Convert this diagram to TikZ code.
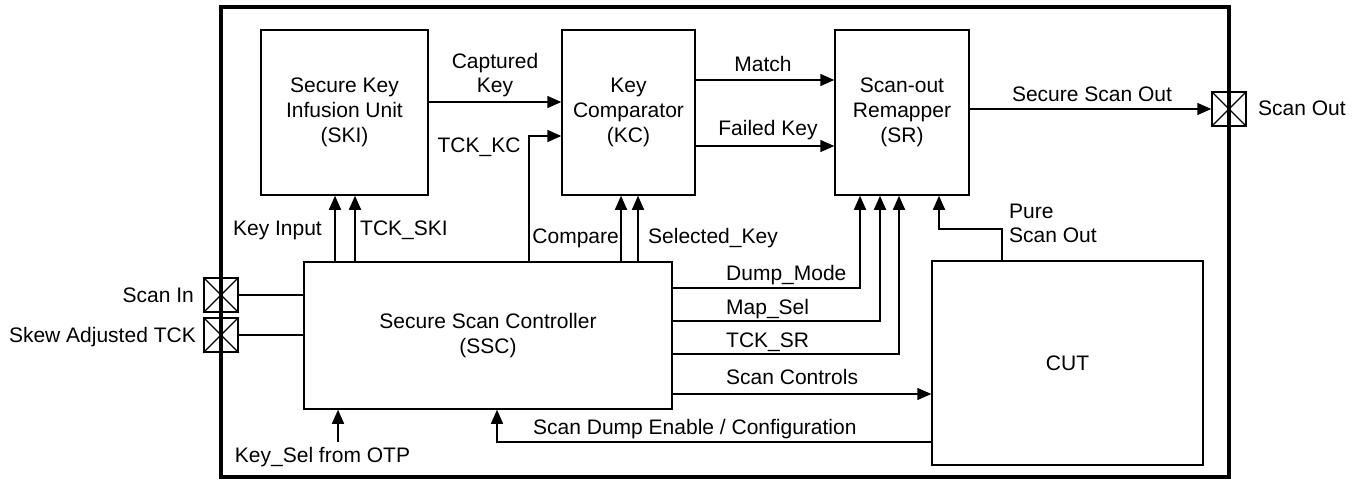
\documentclass[tikz,border=0pt]{standalone}
\usepackage{fontspec}
\setmainfont{Liberation Sans}
\usetikzlibrary{arrows.meta}
\begin{document}
\begin{tikzpicture}[x=1pt,y=-1pt,
  every node/.style={font=\fontsize{21}{25}\selectfont},
  blk/.style={draw, line width=1.5pt, inner sep=0pt, align=center},
  wire/.style={line width=1.5pt},
  arr/.style={wire, -{Triangle[length=14pt,width=12pt]}},
  lbl/.style={inner sep=0pt, text height=15pt, text depth=0pt},
  mlbl/.style={inner sep=0pt, font=\fontsize{21}{24}\selectfont},
  pad/.style={draw, line width=1.5pt, minimum size=34pt, inner sep=0pt},
  padx/.style={line width=1.1pt}]
\useasboundingbox (0,0) rectangle (1364,479);
% outer frame
\node[draw, line width=3.5pt, minimum width=1008pt, minimum height=470pt, inner sep=0pt] (frame) at (725,242) {};
% blocks
\node[blk, minimum width=167pt, minimum height=165pt] (SKI) at (344.5,112.5) {Secure Key\\Infusion Unit\\(SKI)};
\node[blk, minimum width=133pt, minimum height=165pt] (KC) at (628.5,112.5) {Key\\Comparator\\(KC)};
\node[blk, minimum width=134pt, minimum height=165pt] (SR) at (902,112.5) {Scan-out\\Remapper\\(SR)};
\node[blk, minimum width=368pt, minimum height=147pt] (SSC) at (488,335.5) {Secure Scan Controller\\(SSC)};
\node[blk, minimum width=271pt, minimum height=204pt] (CUT) at (1067.5,363) {CUT};
% pads
\node[pad] (SOpad) at (1229,109) {};
\node[pad] (SIpad) at (221,295) {};
\node[pad] (SKpad) at (221,335) {};
\foreach \p in {SOpad,SIpad,SKpad}{
  \draw[padx] (\p.north west) -- (\p.south east) (\p.north east) -- (\p.south west);
}
% SKI -> KC
\draw[arr] (SKI.east |- 0,102) -- (KC.west |- 0,102);
\node[mlbl, align=center] (lcap) at (495,75.5) {Captured\\Key};
% TCK_KC
\draw[arr] (529,0 |- SSC.north) |- (KC.west |- 0,136);
\node[lbl] (ltckkc) at (479,145) {TCK\_KC};
% KC -> SR
\draw[arr] (KC.east |- 0,80) -- (SR.west |- 0,80);
\node[lbl] (lmatch) at (763,64) {Match};
\draw[arr] (KC.east |- 0,146) -- (SR.west |- 0,146);
\node[lbl] (lfail) at (768,128) {Failed Key};
% SR -> Scan out pad
\draw[arr] (SR.east |- SOpad.west) -- (SOpad.west);
\node[lbl] (lsso) at (1092,94) {Secure Scan Out};
\node[lbl, anchor=west] (lso) at (1258,108) {Scan Out};
% SSC -> SKI
\draw[arr] (335,0 |- SSC.north) -- (335,0 |- SKI.south);
\node[lbl, anchor=east] (lkin) at (322,228) {Key Input};
\draw[arr] (355,0 |- SSC.north) -- (355,0 |- SKI.south);
\node[lbl, anchor=west] (ltckski) at (360,228) {TCK\_SKI};
% SSC -> KC
\draw[arr] (621,0 |- SSC.north) -- (621,0 |- KC.south);
\node[lbl, anchor=east] (lcmp) at (619,236) {Compare};
\draw[arr] (638,0 |- SSC.north) -- (638,0 |- KC.south);
\node[lbl, anchor=west] (lsel) at (648,236) {Selected\_Key};
% SSC -> SR
\draw[arr] (SSC.east |- 0,288) -| (860,0 |- SR.south);
\node[lbl, anchor=west] (ldump) at (726,273) {Dump\_Mode};
\draw[arr] (SSC.east |- 0,321) -| (880,0 |- SR.south);
\node[lbl, anchor=west] (lmap) at (726,307) {Map\_Sel};
\draw[arr] (SSC.east |- 0,354) -| (899,0 |- SR.south);
\node[lbl, anchor=west] (ltcksr) at (726,340) {TCK\_SR};
% CUT -> SR
\coordinate (pso) at (1002,229);
\draw[arr] (1002,0 |- CUT.north) -- (pso) -| (939,0 |- SR.south);
\node[mlbl, align=left, anchor=west] (lpso) at (1009,223.5) {Pure\\Scan Out};
% SSC -> CUT
\draw[arr] (SSC.east |- 0,394) -- (CUT.west |- 0,394);
\node[lbl, anchor=west] (lsc) at (726,377) {Scan Controls};
% CUT -> SSC
\draw[arr] (CUT.west |- 0,442) -| (497,0 |- SSC.south);
\node[lbl, anchor=west] (lsde) at (533,427) {Scan Dump Enable / Configuration};
% Key_Sel
\coordinate (ks) at (338,442);
\draw[arr] (ks) -- (ks |- SSC.south);
\node[lbl] (lks) at (322.5,455) {Key\_Sel from OTP};
% pads -> SSC
\draw[wire] (SIpad.east) -- (SSC.west |- SIpad.east);
\node[lbl, anchor=east] (lsi) at (194,295) {Scan In};
\draw[wire] (SKpad.east) -- (SSC.west |- SKpad.east);
\node[lbl, anchor=east] (lsk) at (196,335) {Skew Adjusted TCK};
\end{tikzpicture}
\end{document}
